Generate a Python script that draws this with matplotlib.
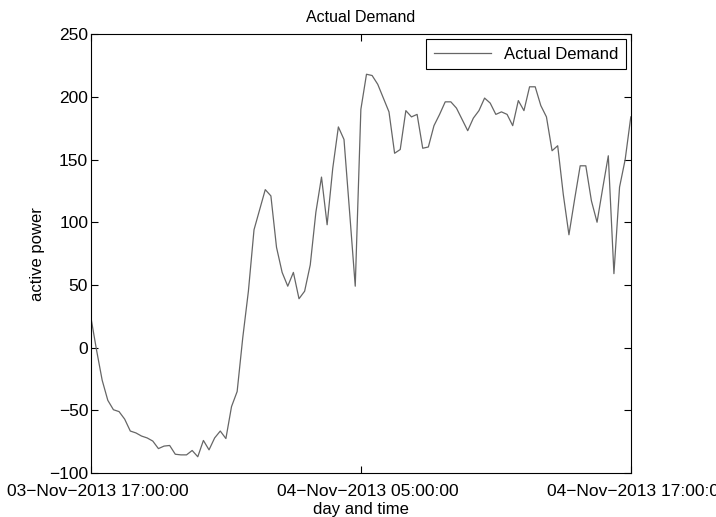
import matplotlib
matplotlib.use("Agg")
import matplotlib.pyplot as plt
import matplotlib.dates as mdates
import matplotlib.transforms as mtransforms
import numpy as np
import pandas as pd

# 15-minute samples from 03-Nov-2013 17:00 to 04-Nov-2013 17:00
start_time = "2013-11-03 17:00:00"
demand = [
    24, -2, -26, -42, -49.5, -51, -57, -66.5, -68, -70.5,
    -72, -74.5, -80.5, -78.5, -78, -85, -85.5, -85.5, -82, -87,
    -74, -81.5, -72, -66.5, -72.5, -47, -35, 8, 45, 94,
    110, 126, 121, 80, 60, 49, 60, 39, 45, 66,
    108, 136, 98, 143, 176, 166, 108, 49, 190, 218,
    217, 210, 199, 188, 155, 158, 189, 184, 186, 159,
    160, 177, 186, 196, 196, 191, 182, 173, 183, 189,
    199, 195, 186, 188, 186, 177, 197, 189, 208, 208,
    193, 184, 157, 161, 122, 90, 118, 145, 145, 117,
    100, 127, 153, 59, 128, 150, 184,
]
tick_times = ["2013-11-03 17:00:00", "2013-11-04 05:00:00", "2013-11-04 17:00:00"]
y_ticks = [-100, -50, 0, 50, 100, 150, 200, 250]

times = pd.date_range(start_time, periods=len(demand), freq="15min")

plt.rcParams['font.family'] = ['Liberation Sans', 'DejaVu Sans']

fig = plt.figure(figsize=(7.16, 5.17), dpi=100)
ax = fig.add_axes([0.127, 0.085, 0.754, 0.849])

ax.plot(times, demand, color="#666666", linewidth=0.9, label="Actual Demand")

ax.set_xlim(pd.Timestamp(tick_times[0]), pd.Timestamp(tick_times[-1]))
ax.set_ylim(-100, 250)
ax.set_xticks([pd.Timestamp(t) for t in tick_times])
ax.set_yticks(y_ticks)


def fmt_time(x, pos=None):
    return mdates.num2date(x).strftime("%d-%b-%Y %H:%M:%S").replace("-", "\u2212")


def fmt_val(v, pos=None):
    return f"{v:g}".replace("-", "\u2212")


ax.xaxis.set_major_formatter(plt.FuncFormatter(fmt_time))
ax.yaxis.set_major_formatter(plt.FuncFormatter(fmt_val))

ax.tick_params(direction="in", top=True, right=True, length=5, width=0.8, pad=2)
ax.tick_params(axis="x", labelsize=12.5, pad=8)
ax.tick_params(axis="y", labelsize=12.5)
for s in ax.spines.values():
    s.set_linewidth(0.8)

# shift the date labels a little to the right, as in the original
shift = mtransforms.ScaledTranslation(7 / 100, 0, fig.dpi_scale_trans)
for lbl in ax.get_xticklabels():
    lbl.set_transform(lbl.get_transform() + shift)

ax.set_title("Actual Demand", fontsize=11.5, pad=9)
ax.set_xlabel("day and time", fontsize=12, labelpad=2)
ax.set_ylabel("active power", fontsize=12, labelpad=3)

leg = ax.legend(loc="upper right", fontsize=12, fancybox=False, framealpha=1,
                edgecolor="black", handlelength=3.4, borderaxespad=0.3,
                borderpad=0.45)
leg.get_frame().set_linewidth(0.8)

fig.savefig("out.png", dpi=100)
